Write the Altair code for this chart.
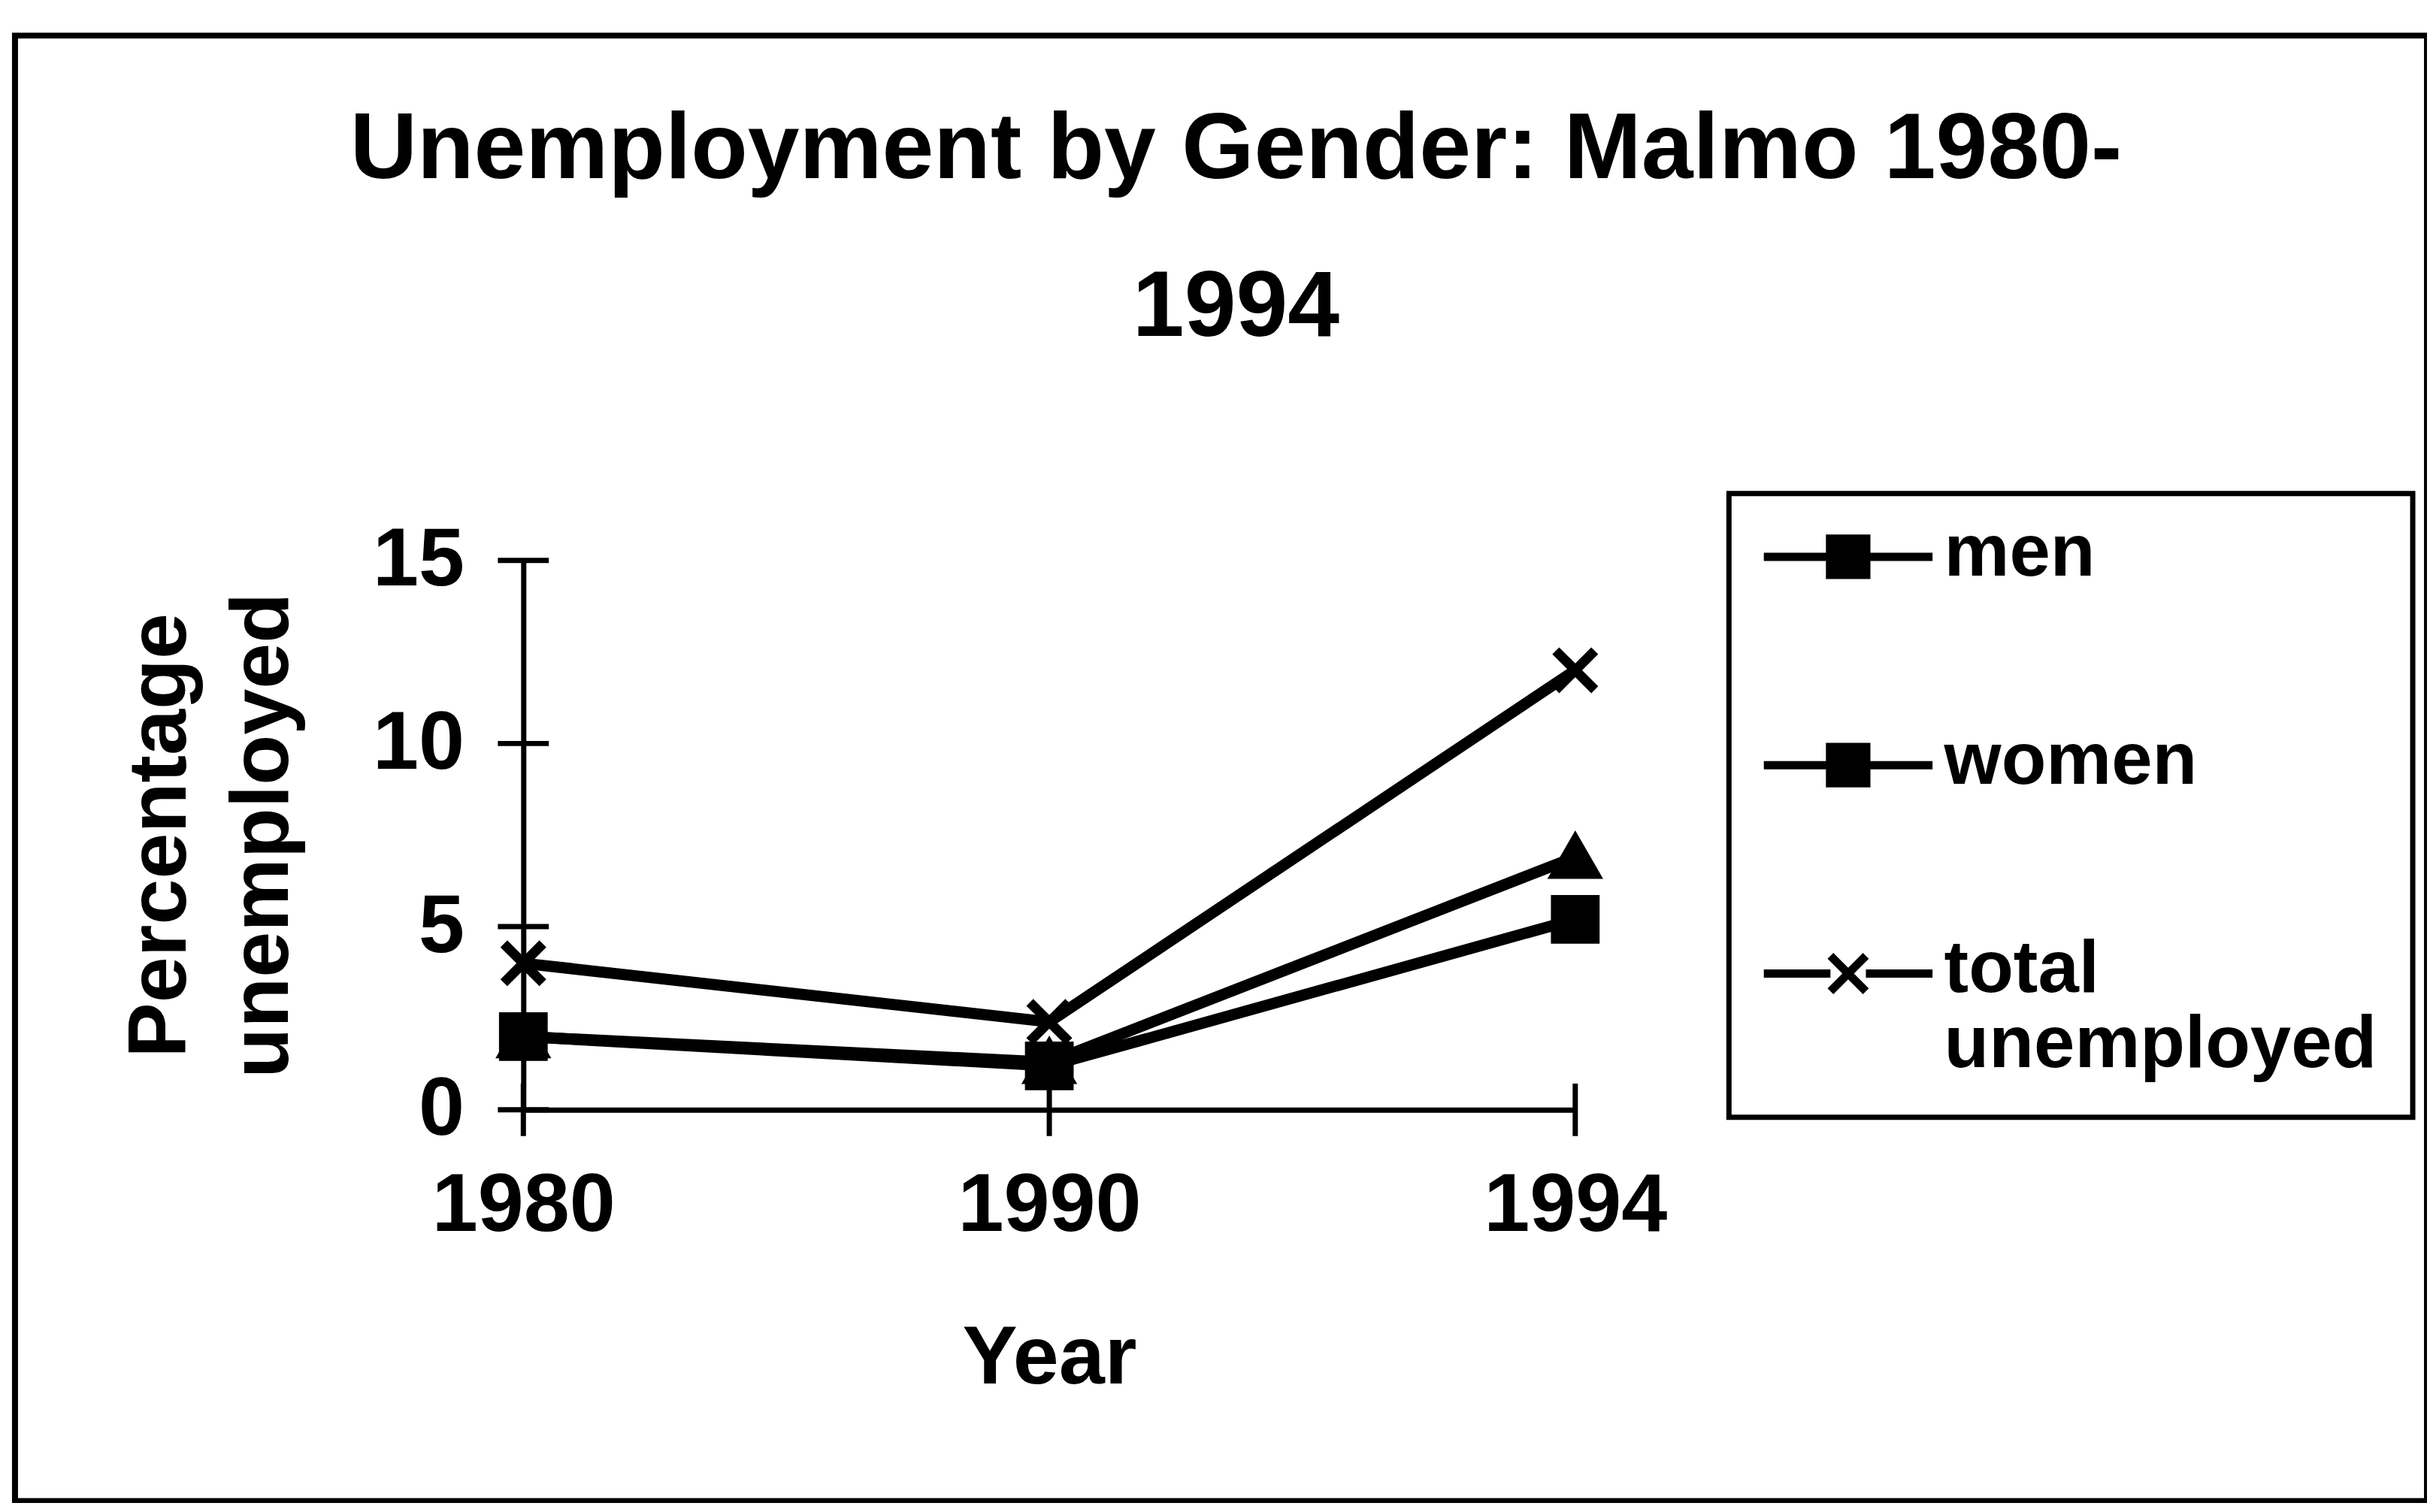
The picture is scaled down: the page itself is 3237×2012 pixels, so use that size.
import altair as alt
import pandas as pd

# ---- data ----
years = ["1980", "1990", "1994"]
men = [2.0, 1.2, 5.2]
women = [2.0, 1.3, 6.9]
total = [4.0, 2.4, 12.0]
series_names = ["men", "women", "total unemployed"]
y_ticks = [0, 5, 10, 15]
title_lines = ["Unemployment by Gender: Malmo 1980-", "1994"]
y_title_lines = ["Percentage", "unemployed"]
x_title = "Year"

rows = []
for name, vals in zip(series_names, [men, women, total]):
    for yr, v in zip(years, vals):
        rows.append({"Year": yr, "series": name, "value": v})
df = pd.DataFrame(rows)
ytick_df = pd.DataFrame({"Year": [years[0]] * len(y_ticks), "value": y_ticks})
xtick_df = pd.DataFrame({"Year": years, "value": [0] * len(years)})

FONT = "Liberation Sans"
VIEW_W, VIEW_H = 3217, 1955
X_RANGE = [678, 2081]
Y_RANGE = [1433, 700]

x_enc = alt.X(
    "Year:O", sort=years,
    scale=alt.Scale(type="point", padding=0, range=X_RANGE),
    axis=alt.Axis(
        title=x_title, labelAngle=0, ticks=False, domain=True,
        domainColor="black", domainWidth=7, offset=-(VIEW_H - Y_RANGE[0]),
        labelFont=FONT, labelFontSize=110, labelFontWeight="bold", labelColor="black",
        labelPadding=74, labelLimit=1000, labelOverlap=False,
        titleFont=FONT, titleFontSize=110, titleFontWeight="bold",
        titleColor="black", titlePadding=95, grid=False,
    ),
)
y_enc = alt.Y(
    "value:Q",
    scale=alt.Scale(domain=[0, 15], range=Y_RANGE),
    axis=alt.Axis(
        title=y_title_lines, values=y_ticks, ticks=False, domain=True,
        domainColor="black", domainWidth=7, offset=-X_RANGE[0],
        labelFont=FONT, labelFontSize=110, labelFontWeight="bold", labelColor="black",
        labelPadding=79, labelLimit=1000,
        titleFont=FONT, titleFontSize=110, titleFontWeight="bold",
        titleColor="black", titlePadding=92, titleLineHeight=136, grid=False,
    ),
)

ytick_layer = alt.Chart(ytick_df).mark_tick(
    orient="horizontal", size=68, thickness=7, color="black", opacity=1
).encode(x=x_enc, y=y_enc)
xtick_layer = alt.Chart(xtick_df).mark_tick(
    orient="vertical", size=70, thickness=7, color="black", opacity=1
).encode(x=x_enc, y=y_enc)

line_layer = alt.Chart(df).mark_line(color="black", strokeWidth=15).encode(
    x=x_enc, y=y_enc, detail="series:N"
)

X_PATH = "M-1,-1L1,1M1,-1L-1,1"
point_layer = alt.Chart(df).mark_point(
    filled=True, fill="black", stroke="black", strokeWidth=13, size=2700, opacity=1
).encode(
    x=x_enc, y=y_enc,
    shape=alt.Shape(
        "series:N",
        scale=alt.Scale(domain=series_names, range=["square", "triangle-up", X_PATH]),
        legend=None,
    ),
)

# ---- legend-only layer: symbols drawn as "line + marker" paths ----
LEG_SIZE = 12656            # sqrt = 112.5 px -> 1 path unit = 56.25 px
C = -0.44                   # vertical shift of symbol (units)
H = 0.43                    # half size of the marker (units)


def f(v):
    return f"{v:.3f}"


def square_path():
    p = f"M-2,{f(C)}H2"
    p += f"M{f(-H)},{f(C - H)}H{f(H)}V{f(C + H)}H{f(-H)}Z"
    k = -H
    while k <= H + 1e-9:
        p += f"M{f(-H)},{f(C + k)}H{f(H)}"
        k += 0.1
    return p


def x_path():
    h = 0.42
    return (f"M-2,{f(C)}H{f(-h)}M{f(h)},{f(C)}H2"
            f"M{f(-h)},{f(C - h)}L{f(h)},{f(C + h)}"
            f"M{f(h)},{f(C - h)}L{f(-h)},{f(C + h)}")


LEG_SQ = square_path()
LEG_X = x_path()

legend_layer = alt.Chart(df).transform_filter("datum.value < -1000").mark_point(
    filled=False, color="black", strokeWidth=11, size=LEG_SIZE, opacity=1
).encode(
    x=x_enc, y=y_enc,
    shape=alt.Shape(
        "series:N",
        scale=alt.Scale(domain=series_names, range=[LEG_SQ, LEG_SQ, LEG_X]),
        legend=alt.Legend(
            title=None, orient="none", legendX=2286, legendY=611,
            labelExpr="datum.label == 'total unemployed' ? ['total', 'unemployed'] : datum.label",
            labelFont=FONT, labelFontSize=98, labelFontWeight="bold", labelColor="black",
            labelBaseline="alphabetic", labelLimit=2000,
            padding=47, rowPadding=178, symbolOffset=50, labelOffset=66,
            strokeColor="black", symbolSize=LEG_SIZE, symbolStrokeWidth=11,
            symbolStrokeColor="black", symbolOpacity=1,
        ),
    ),
)

chart = alt.layer(
    ytick_layer, xtick_layer, line_layer, point_layer, legend_layer
).resolve_scale(shape="independent").properties(
    width=VIEW_W, height=VIEW_H,
    background="white",
    title=alt.TitleParams(
        text=title_lines, font=FONT, fontSize=124, fontWeight="bold", color="black",
        anchor="middle", frame="group", baseline="top", offset=0, dy=427, dx=20,
        lineHeight=211,
    ),
    autosize=alt.AutoSizeParams(type="none"),
    padding={"left": 12, "top": 37, "right": 0, "bottom": 0},
).configure_view(
    stroke="black", strokeWidth=8
).configure_legend(
    strokeWidth=7
)

chart.save("out.html", embed_options={"renderer": "svg", "actions": False})
